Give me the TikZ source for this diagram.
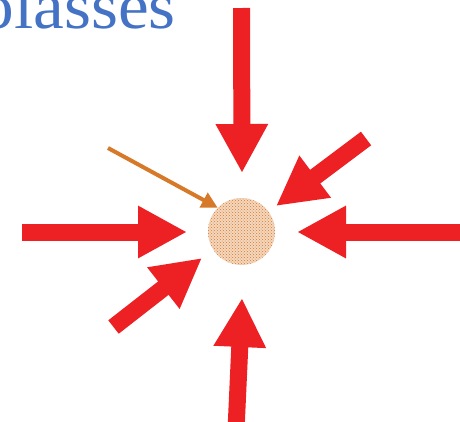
\documentclass[tikz,border=0pt]{standalone}
\usepackage{fontspec}
\setmainfont{Liberation Serif}
\usepackage{tikz}
\usetikzlibrary{arrows.meta,patterns}
\definecolor{beamred}{HTML}{ED2024}
\definecolor{atomorange}{HTML}{D67A2A}
\definecolor{titleblue}{HTML}{4472C4}
\tikzset{
  beam/.style={draw=beamred, line width=17pt, -{Triangle[width=49pt,length=49pt]}},
  probe/.style={draw=atomorange, line width=4pt, -{Triangle[width=16pt,length=16pt]}}
}

\begin{document}
\begin{tikzpicture}[x=1pt,y=-1pt]
\useasboundingbox (0,0) rectangle (460,421);
\clip (0,0) rectangle (460,421);
\node[titleblue, anchor=base east, inner sep=0pt, xscale=1.05, font=\fontsize{66}{70}\selectfont] (title) at (176,28) {molasses};
\node[circle, minimum size=67pt, inner sep=0pt, preaction={fill=atomorange!30}, pattern=crosshatch dots, pattern color=atomorange] (atom) at (241.5,231.5) {};
% laser beams
\coordinate (tN) at (241.5,8);    \coordinate (hN) at (242,173);
\coordinate (tS) at (236,430);    \coordinate (hS) at (242,298);
\coordinate (tW) at (22,232);     \coordinate (hW) at (187,232);
\coordinate (tE) at (470,232);    \coordinate (hE) at (297,232);
\coordinate (tNE) at (366,138.5); \coordinate (hNE) at (276,206);
\coordinate (tSW) at (113.5,327); \coordinate (hSW) at (202,258);
\foreach \d in {N,S,W,E,NE,SW}
  \draw[beam] (t\d) -- (h\d);
% incoming atom
\coordinate (tP) at (108,148);
\draw[probe] (tP) -- (atom.north west);
\end{tikzpicture}
\end{document}
